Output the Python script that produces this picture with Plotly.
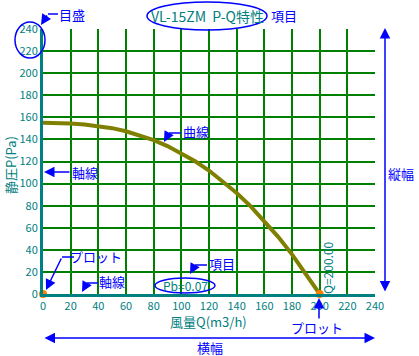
import plotly.graph_objects as go

# ---- data ----
flow_q = [0, 10, 20, 30, 40, 50, 60, 70, 80, 90, 100, 110, 120, 130, 140, 150, 160, 170, 180, 190, 200]
pressure_p = [155, 154.9, 154.5, 153.6, 152.2, 150.2, 147.4, 143.8, 139.3, 134, 127.6, 120.2,
              111.8, 102.2, 91.5, 79.6, 66.3, 51.8, 35.9, 18.7, 0]
plot_q = [0, 200]
plot_p = [0, 0]
tick_vals = list(range(0, 241, 20))
tick_text = [str(v) for v in tick_vals]

title_text = "VL-15ZM  P-Q特性"
x_title = "風量Q(m3/h)"
y_title = "静圧P(Pa)"
pb_text = "Pb=0.07"
q_text = "Q=200.00"

# ---- layout geometry (pixels) ----
W, H = 419, 356
L, R, T, B = 43, 375, 29, 294
FONT = "Noto Sans CJK JP"
TEAL = "#008080"
BLUE = "#0000ff"
GREEN = "#008000"


def px(x):
    return (x - L) / (R - L)


def py(y):
    return (B - y) / (B - T)


fig = go.Figure()
fig.add_trace(go.Scatter(x=flow_q, y=pressure_p, mode="lines",
                         line=dict(color="#808000", width=4), hoverinfo="skip"))
fig.add_trace(go.Scatter(x=plot_q, y=plot_p, mode="markers", cliponaxis=False,
                         marker=dict(color="#ff8000", size=8), hoverinfo="skip"))

axis_common = dict(range=[0, 240], tickmode="array", tickvals=tick_vals, ticktext=tick_text,
                   showgrid=True, gridcolor=GREEN, gridwidth=1.6,
                   showline=True, linecolor=TEAL, linewidth=3, zeroline=False,
                   tickfont=dict(family=FONT, size=11, color=TEAL), ticks="")
fig.update_xaxes(**axis_common)
fig.update_yaxes(**axis_common)

shapes = []
annotations = []


def text(x, y, s, color=BLUE, size=12, angle=0):
    annotations.append(dict(x=px(x), y=py(y), xref="paper", yref="paper", text=s,
                            showarrow=False, textangle=angle,
                            font=dict(family=FONT, size=size, color=color),
                            xanchor="center", yanchor="middle"))


def arrow(tipx, tipy, tailx, taily, both=False):
    annotations.append(dict(x=px(tipx), y=py(tipy), xref="paper", yref="paper", text="",
                            showarrow=True, ax=tailx - tipx, ay=taily - tipy,
                            axref="pixel", ayref="pixel",
                            arrowhead=2, arrowsize=1.4, arrowwidth=1.5, arrowcolor=BLUE,
                            arrowside="end+start" if both else "end",
                            startarrowhead=2, startarrowsize=1.4, standoff=0, startstandoff=0))


def line(x0, y0, x1, y1):
    shapes.append(dict(type="line", xref="paper", yref="paper",
                       x0=px(x0), y0=py(y0), x1=px(x1), y1=py(y1),
                       line=dict(color=BLUE, width=1.5)))


def ellipse(x0, y0, x1, y1):
    shapes.append(dict(type="circle", xref="paper", yref="paper",
                       x0=px(x0), y0=py(y1), x1=px(x1), y1=py(y0),
                       line=dict(color=BLUE, width=1.5)))


# title
text(207, 16, title_text, color=TEAL, size=14)
ellipse(147, 2, 267, 30)
text(284, 15, "項目", size=13)

# 目盛
text(72, 14, "目盛", size=13)
line(58, 14, 48, 14)
arrow(41, 25, 48, 14)
ellipse(15, 22, 45, 58)

# 曲線
text(196, 131, "曲線", size=13)
line(181, 133, 169, 133)
arrow(164, 142, 169, 133)

# 軸線 (left)
text(85, 172, "軸線", size=13)
arrow(44, 172, 71, 172)

# プロット (upper-left)
text(96, 256, "プロット", size=13)
line(74, 257, 62, 257)
arrow(46, 290, 62, 257)

# 軸線 (bottom)
text(112, 281, "軸線", size=13)
line(98, 283, 87, 283)
arrow(82, 292, 87, 283)

# 項目 near Pb
text(222, 263, "項目", size=13)
line(207, 265, 195, 265)
arrow(190, 274, 195, 265)

# Pb
text(185, 285, pb_text, color=TEAL, size=12)
ellipse(155, 278, 215, 293)

# Q=200.00
text(327, 268, q_text, color=TEAL, size=12, angle=-90)

# プロット (bottom)
text(317, 327, "プロット", size=13)
arrow(319, 298, 319, 320)

# 横幅
arrow(375, 338, 43, 338, both=True)
text(210, 347, "横幅", size=13)

# 縦幅
arrow(385, 28, 385, 293, both=True)
text(401, 173, "縦幅", size=13)

# axis titles
text(208, 321, x_title, color=TEAL, size=13)
text(10, 165, y_title, color=TEAL, size=13, angle=-90)

fig.update_layout(template="none", width=W, height=H,
                  margin=dict(l=L, r=W - R, t=T, b=H - B),
                  paper_bgcolor="white", plot_bgcolor="white", showlegend=False,
                  shapes=shapes, annotations=annotations)
fig.write_html("out.html")
